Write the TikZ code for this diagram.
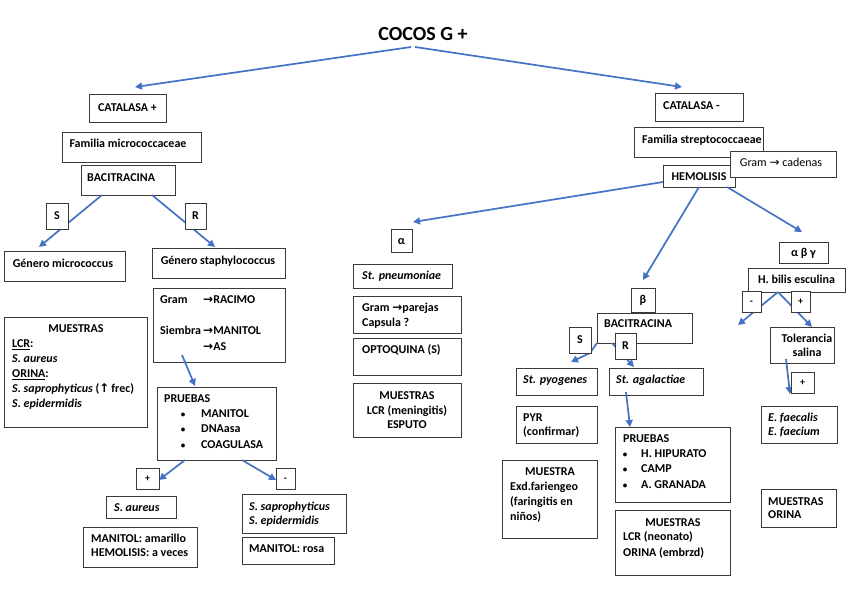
\documentclass[tikz,border=0pt]{standalone}
\usepackage{fontspec}
\setmainfont{Carlito}
\newfontfamily\dv{DejaVu Sans}[Scale=1.0]
\newfontfamily\dvb{DejaVu Sans Bold}[Scale=1.0]
\usetikzlibrary{arrows.meta}
\definecolor{arrblue}{HTML}{4472C4}
\definecolor{boxgray}{HTML}{3A3A3A}
\newcounter{tn}
\newcommand\tl[3][]{\stepcounter{tn}\edef\tnm{t\arabic{tn}}\node[txt,#1] (\tnm) at (#2) {#3};}
\newcommand\bx[6]{\node[box,minimum width={(#4-#2)*1pt},minimum height={(#5-#3)*1pt}] (#1) at ({(#2+#4)/2},{(#3+#5)/2}) {};
  \node[txt,anchor=center] (#1-t) at (#1.center) {#6};}
\newcommand\lb[6]{\node[box,minimum width={(#4-#2)*1pt},minimum height={(#5-#3)*1pt}] (#1) at ({(#2+#4)/2},{(#3+#5)/2}) {};
  \node[txt,anchor=center,font=\fontsize{10}{12}\selectfont\bfseries,text height=6.4pt] (#1-t) at (#1.center) {#6};}
\newcommand\ra{{\dvb →}}
\newcommand\bul{{\fontsize{9}{10}\selectfont\textbullet}}
\begin{document}
\begin{tikzpicture}[x=1pt,y=-1pt,
  box/.style={draw=boxgray,line width=0.9pt,fill=white,inner sep=0pt,outer sep=0pt,rectangle},
  txt/.style={font=\fontsize{12}{15}\selectfont\bfseries,inner sep=0pt,anchor=west,text height=7.7pt,text depth=0pt},
  ctxt/.style={anchor=center},
  arr/.style={draw=arrblue,line width=1.7pt,line join=round,-{Triangle[length=7pt,width=7pt]}},
  titlestyle/.style={font=\fontsize{20}{24}\selectfont\bfseries,inner sep=0pt,text height=12.9pt,text depth=0pt}]
\useasboundingbox[fill=white] (0,0) rectangle (848,599);

\node[titlestyle] (title) at (423,34) {COCOS G +};

% ---------- main boxes, left ----------
\bx{cat1}{89}{94}{166}{122}{CATALASA +}
\bx{fam1}{62}{132}{201}{162}{}
\tl[ctxt]{128,144}{Familia micrococcaceae}
\bx{bac1}{81}{165}{175}{195}{}
\tl{87,178}{BACITRACINA}
\bx{gmic}{4}{251}{125}{281}{}
\tl[ctxt]{63,264}{Género micrococcus}
\bx{gsta}{152}{248}{285}{278}{}
\tl[ctxt]{218,261}{Género staphylococcus}
\bx{gram}{153}{288}{285}{362}{}
\tl{160,300}{Gram}
\tl{203,300}{\ra RACIMO}
\tl{160,331}{Siembra}
\tl{203,331}{\ra MANITOL}
\tl{203,347}{\ra AS}
\bx{mues1}{4}{317}{147}{427}{}
\tl[ctxt]{76,329}{MUESTRAS}
\tl{12,344}{\underline{LCR}:}
\tl{12,359}{\itshape S. aureus}
\tl{12,374}{\underline{ORINA}:}
\tl{12,389}{{\itshape S. saprophyticus} ({\dvb ↑}\,frec)}
\tl{12,404}{\itshape S. epidermidis}
\bx{pru1}{157}{387}{276}{460}{}
\tl{164,399}{PRUEBAS}
\tl[ctxt]{183,414}{\bul}
\tl[ctxt]{183,429}{\bul}
\tl[ctxt]{183,445}{\bul}
\tl{201,414}{MANITOL}
\tl{201,429}{DNAasa}
\tl{201,445}{COAGULASA}
\bx{saur}{106}{496}{176}{518}{}
\tl{114,508}{\itshape S. aureus}
\bx{man1}{83}{527}{197}{567}{}
\tl{91,539}{MANITOL: amarillo}
\tl{91,553}{HEMOLISIS: a veces}
\bx{ssap}{242}{494}{346}{533}{}
\tl{249,507}{\itshape S. saprophyticus}
\tl{249,521}{\itshape S. epidermidis}
\bx{man2}{242}{537}{334}{564}{}
\tl{249,549}{MANITOL: rosa}

% ---------- middle ----------
\bx{alpha}{391}{229}{412}{252}{α}
\bx{pneu}{353}{264}{452}{288}{}
\tl{362,276}{\itshape St. pneumoniae}
\bx{grampar}{353}{296}{461}{333}{}
\tl{362,308}{Gram \ra parejas}
\tl{362,323}{Capsula ?}
\bx{opto}{353}{338}{461}{375}{}
\tl{362,350}{OPTOQUINA (S)}
\bx{mues2}{353}{383}{461}{437}{}
\tl[ctxt]{407,396}{MUESTRAS}
\tl[ctxt]{407,411}{LCR (meningitis)}
\tl[ctxt]{407,425}{ESPUTO}

% ---------- right ----------
\bx{cat2}{655}{93}{743}{121}{}
\tl{663,106}{CATALASA -}
\bx{fam2}{634}{127}{763}{157}{}
\tl{642,140}{Familia streptococcaeae}
\bx{hemo}{663}{165}{735}{187}{}
\tl[ctxt]{699,177}{HEMOLISIS}
\bx{gcad}{730}{151}{836}{177}{}
\tl[ctxt,font=\fontsize{12}{15}\selectfont]{781,163}{Gram {\dv →} cadenas}
\bx{beta}{631}{288}{655}{312}{β}
\bx{bac2}{597}{313}{692}{343}{}
\tl{604,324}{BACITRACINA}
\bx{pyo}{516}{368}{597}{395}{}
\tl{523,380}{\itshape St. pyogenes}
\bx{aga}{609}{368}{703}{395}{}
\tl{616,380}{\itshape St. agalactiae}
\bx{pyr}{516}{406}{597}{443}{}
\tl{523,418}{PYR}
\tl{523,432}{(confirmar)}
\bx{mexd}{502}{460}{597}{538}{}
\tl[ctxt]{550,472}{MUESTRA}
\tl{510,487}{Exd.fariengeo}
\tl{510,502}{(faringitis en}
\tl{510,517}{niños)}
\bx{pru2}{615}{427}{730}{502}{}
\tl{623,439}{PRUEBAS}
\tl[ctxt]{625,454}{\bul}
\tl[ctxt]{625,469}{\bul}
\tl[ctxt]{625,485}{\bul}
\tl{641,454}{H. HIPURATO}
\tl{641,469}{CAMP}
\tl{641,485}{A. GRANADA}
\bx{mues3}{615}{510}{730}{575}{}
\tl[ctxt]{673,523}{MUESTRAS}
\tl{623,537}{LCR (neonato)}
\tl{623,553}{ORINA (embrzd)}
\bx{abg}{779}{242}{828}{263}{α β γ}
\bx{bilis}{748}{268}{845}{292}{H. bilis esculina}
\bx{tol}{770}{327}{834}{363}{}
\tl[ctxt]{807,339}{Tolerancia}
\tl[ctxt]{807,353}{salina}
\bx{faec}{761}{406}{837}{443}{}
\tl{768,418}{\itshape E. faecalis}
\tl{768,432}{\itshape E. faecium}
\bx{mues4}{761}{489}{836}{527}{}
\tl{768,502}{MUESTRAS}
\tl{768,515}{ORINA}

% ---------- connector end points ----------
\coordinate (a1s) at (411,47);  \coordinate (a1e) at (135,87);
\coordinate (a2s) at (415,47);  \coordinate (a2e) at (682,87);
\coordinate (a3s) at (102,195); \coordinate (a3e) at (39,247);
\coordinate (a4s) at (152,195); \coordinate (a4e) at (215,247);
\coordinate (a5s) at (182,355); \coordinate (a5e) at (195,386);
\coordinate (a6s) at (185,460); \coordinate (a6e) at (159,480);
\coordinate (a7s) at (242,460); \coordinate (a7e) at (276,480);
\coordinate (a8s) at (663,182); \coordinate (a8e) at (413,222);
\coordinate (a9s) at (699,187); \coordinate (a9e) at (643,280);
\coordinate (a10s) at (727,187); \coordinate (a10e) at (802,232);
\coordinate (a11s) at (597,343); \coordinate (a11m) at (590,353); \coordinate (a11e) at (571,362);
\coordinate (a12s) at (612,343); \coordinate (a12e) at (634,367);
\coordinate (a13s) at (626,392); \coordinate (a13e) at (630,427);
\coordinate (a14s) at (778,292); \coordinate (a14e) at (738,325);
\coordinate (a15e) at (812,327);
\coordinate (a16s) at (786,359); \coordinate (a16e) at (790,394);

\draw[arr] (a1s) -- (a1e);
\draw[arr] (a2s) -- (a2e);
\draw[arr] (a3s) -- (a3e);
\draw[arr] (a4s) -- (a4e);
\draw[arr] (a5s) -- (a5e);
\draw[arr] (a6s) -- (a6e);
\draw[arr] (a7s) -- (a7e);
\draw[arr] (a8s) -- (a8e);
\draw[arr] (a9s) -- (a9e);
\draw[arr] (a10s) -- (a10e);
\draw[arr] (a11s) -- (a11m) -- (a11e);
\draw[arr] (a12s) -- (a12e);
\draw[arr] (a13s) -- (a13e);
\draw[arr] (a14s) -- (a14e);
\draw[arr] (a14s) -- (a15e);
\draw[arr] (a16s) -- (a16e);

% ---------- small label boxes on top ----------
\bx{s1}{46}{203}{68}{229}{S}
\bx{r1}{185}{203}{206}{229}{R}
\lb{plus1}{136}{468}{159}{489}{+}
\lb{minus1}{276}{468}{295}{489}{-}
\bx{s2}{569}{327}{591}{353}{S}
\bx{r2}{615}{333}{636}{359}{R}
\lb{m3}{742}{291}{761}{312}{-}
\lb{p3}{791}{291}{810}{312}{+}
\lb{p4}{791}{372}{814}{393}{+}
\end{tikzpicture}
\end{document}
